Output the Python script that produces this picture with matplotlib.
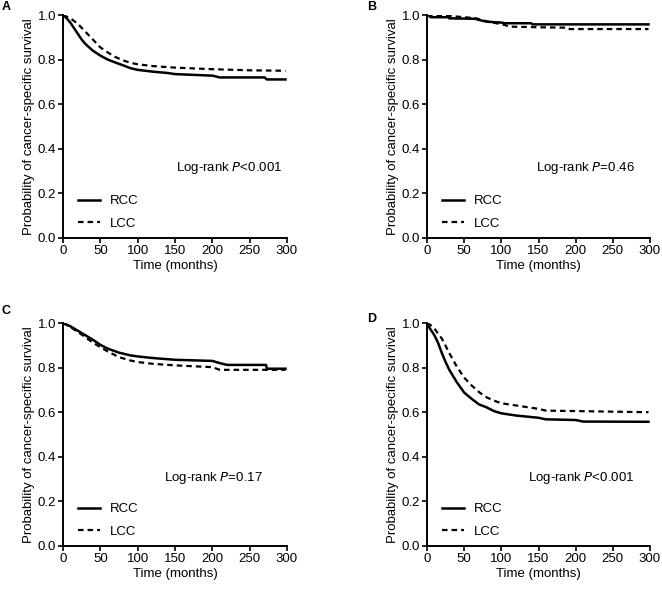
import matplotlib
matplotlib.use("Agg")
import matplotlib.pyplot as plt

plt.rcParams['font.family'] = ['Liberation Sans', 'DejaVu Sans']

# =============================
# Data (time in months, survival probability)
# =============================

# Panel A
a_rcc_t = [0, 5, 10, 15, 20, 25, 30, 40, 50, 60, 70, 80, 90, 100, 120, 140, 150, 200, 210, 270, 273, 298]
a_rcc_s = [1.0, 0.985, 0.965, 0.94, 0.915, 0.89, 0.87, 0.84, 0.818, 0.80, 0.787, 0.775, 0.762, 0.754, 0.746, 0.74, 0.735, 0.728, 0.72, 0.72, 0.711, 0.711]
a_lcc_t = [0, 10, 20, 30, 40, 50, 60, 70, 80, 90, 100, 120, 150, 200, 250, 298]
a_lcc_s = [1.0, 0.985, 0.96, 0.925, 0.89, 0.855, 0.832, 0.812, 0.797, 0.786, 0.779, 0.771, 0.764, 0.757, 0.752, 0.75]

# Panel B
b_rcc_t = [0, 3, 5, 28, 30, 65, 70, 80, 100, 105, 140, 142, 298]
b_rcc_s = [1.0, 0.995, 0.99, 0.99, 0.985, 0.983, 0.978, 0.97, 0.966, 0.963, 0.963, 0.958, 0.958]
b_lcc_t = [0, 30, 50, 65, 80, 95, 105, 110, 150, 190, 192, 298]
b_lcc_s = [1.0, 0.996, 0.99, 0.986, 0.972, 0.962, 0.955, 0.948, 0.945, 0.943, 0.937, 0.937]

# Panel C
c_rcc_t = [0, 10, 25, 40, 50, 60, 75, 90, 100, 120, 150, 200, 210, 220, 272, 273, 298]
c_rcc_s = [1.0, 0.985, 0.955, 0.925, 0.902, 0.885, 0.867, 0.855, 0.85, 0.843, 0.835, 0.83, 0.82, 0.812, 0.812, 0.795, 0.795]
c_lcc_t = [0, 10, 25, 40, 50, 60, 75, 90, 100, 120, 150, 200, 210, 280, 298]
c_lcc_s = [1.0, 0.982, 0.948, 0.912, 0.892, 0.872, 0.847, 0.832, 0.825, 0.817, 0.81, 0.802, 0.79, 0.79, 0.79]

# Panel D
d_rcc_t = [0, 3, 6, 10, 15, 20, 25, 30, 40, 50, 60, 70, 80, 90, 100, 120, 150, 160, 200, 210, 298]
d_rcc_s = [1.0, 0.98, 0.965, 0.945, 0.91, 0.865, 0.825, 0.79, 0.735, 0.688, 0.66, 0.635, 0.622, 0.605, 0.595, 0.585, 0.575, 0.568, 0.565, 0.558, 0.557]
d_lcc_t = [0, 5, 10, 20, 30, 40, 50, 60, 70, 80, 90, 100, 120, 150, 160, 200, 298]
d_lcc_s = [1.0, 0.99, 0.975, 0.93, 0.865, 0.805, 0.755, 0.72, 0.69, 0.667, 0.652, 0.64, 0.63, 0.615, 0.607, 0.605, 0.6]

panels = [
    ("A", a_rcc_t, a_rcc_s, a_lcc_t, a_lcc_s, "<0.001"),
    ("B", b_rcc_t, b_rcc_s, b_lcc_t, b_lcc_s, "=0.46"),
    ("C", c_rcc_t, c_rcc_s, c_lcc_t, c_lcc_s, "=0.17"),
    ("D", d_rcc_t, d_rcc_s, d_lcc_t, d_lcc_s, "<0.001"),
]

x_ticks = [0, 50, 100, 150, 200, 250, 300]
y_ticks = [0.0, 0.2, 0.4, 0.6, 0.8, 1.0]

# =============================
# Layout (pixel boxes -> figure fractions)
# =============================

W, H = 662, 589
fig = plt.figure(figsize=(W / 100, H / 100), dpi=100)

boxes = [
    (63, 15, 287, 238),
    (427, 15, 650, 238),
    (63, 323, 287, 546),
    (427, 323, 650, 546),
]
label_pos = [(2, 7), (367, 7), (2, 311), (367, 319)]
p_pos = [(0.978, 0.314), (0.93, 0.314), (0.893, 0.305), (0.928, 0.305)]

FS = 9.5

for (name, rt, rs, lt, ls, p), (x0, y0, x1, y1), (lx, ly), (px, py) in zip(panels, boxes, label_pos, p_pos):
    ax = fig.add_axes([x0 / W, 1 - y1 / H, (x1 - x0) / W, (y1 - y0) / H])
    ax.plot(rt, rs, color="black", lw=1.8, label="RCC")
    ax.plot(lt, ls, color="black", lw=1.6, ls=(0, (2.5, 1.8)), label="LCC")

    ax.set_xlim(0, 300)
    ax.set_ylim(0, 1.0)
    ax.set_xticks(x_ticks)
    ax.set_yticks(y_ticks)
    ax.set_yticklabels([f"{v:.1f}" for v in y_ticks])
    for s in ["top", "right"]:
        ax.spines[s].set_visible(False)
    for s in ["left", "bottom"]:
        ax.spines[s].set_linewidth(1.4)
    ax.tick_params(direction="out", length=3.5, width=1.2, labelsize=FS, pad=1.5)
    ax.set_xlabel("Time (months)", fontsize=FS, labelpad=2)
    ax.set_ylabel("Probability of cancer-specific survival", fontsize=FS, labelpad=2)

    ax.legend(loc="lower left", frameon=False, fontsize=FS, handlelength=1.7,
              handletextpad=0.75, labelspacing=0.8, borderaxespad=0.2,
              bbox_to_anchor=(0.03, 0.0))
    ax.text(px, py, f"Log-rank $\\it{{P}}${p}", transform=ax.transAxes,
            ha="right", va="center", fontsize=FS)

    fig.text(lx / W, 1 - ly / H, name, fontsize=9, fontweight="bold",
             ha="left", va="center")

fig.savefig("out.png", dpi=100)
